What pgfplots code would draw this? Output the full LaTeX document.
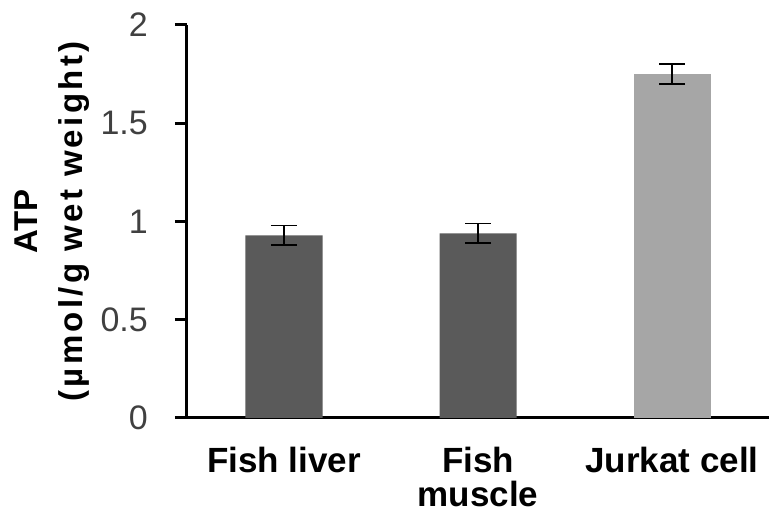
\documentclass[border=0pt]{standalone}
\usepackage{pgfplots}
\pgfplotsset{compat=1.18}
\usepackage{fontspec}
\setmainfont{Liberation Sans}
\definecolor{darkbar}{HTML}{5A5A5A}
\definecolor{lightbar}{HTML}{A6A6A6}
\definecolor{ticktext}{HTML}{404040}
\begin{document}
\begin{tikzpicture}
\begin{axis}[
    at={(187pt,96pt)}, anchor=south west,
    width=582pt, height=393pt, scale only axis,
    ybar, bar width=77pt, bar shift=0pt,
    xmin=-0.5, xmax=2.5, ymin=0, ymax=2,
    axis x line*=bottom, axis y line*=left,
    axis line style={line width=3pt, black},
    every outer x axis line/.append style={line width=3pt},
    every outer y axis line/.append style={line width=3pt},
    xtick={0,1,2},
    xticklabels={Fish liver, Fish\\muscle, Jurkat cell},
    xtick style={draw=none},
    minor xtick={-0.5,0.5,1.5,2.5},
    minor tick length=12pt,
    minor x tick style={line width=3pt, black},
    ytick={0,0.5,1,1.5,2},
    tick align=outside,
    major tick length=12pt,
    y tick style={line width=3pt, black},
    /pgf/number format/assume math mode=true,
    yticklabel style={font=\fontsize{34}{34}\selectfont, text=ticktext, inner sep=2pt, xshift=-25pt},
    xticklabel style={font=\bfseries\fontsize{35}{34}\selectfont, align=center, anchor=north, yshift=-14pt},
    every axis y label/.style={at={(axis description cs:0,0.5)}, xshift=-172pt, anchor=north, rotate=90,
        inner sep=0pt, align=center, font=\bfseries\fontsize{33}{45}\selectfont},
    ylabel={ATP\\{\addfontfeature{LetterSpace=10}(µmol/g wet weight)}},
]
\addplot[fill=darkbar, draw=none,
    error bars/.cd, y dir=both, y explicit,
    error bar style={line width=1.8pt, black},
    error mark options={rotate=90, mark size=13pt, line width=1.8pt, black}]
    coordinates {(0,0.93) +- (0,0.05) (1,0.94) +- (0,0.05)};
\addplot[fill=lightbar, draw=none,
    error bars/.cd, y dir=both, y explicit,
    error bar style={line width=1.8pt, black},
    error mark options={rotate=90, mark size=13pt, line width=1.8pt, black}]
    coordinates {(2,1.75) +- (0,0.05)};
\end{axis}
\pgfresetboundingbox
\path[use as bounding box] (0,0) rectangle (771pt,514pt);
\end{tikzpicture}
\end{document}
